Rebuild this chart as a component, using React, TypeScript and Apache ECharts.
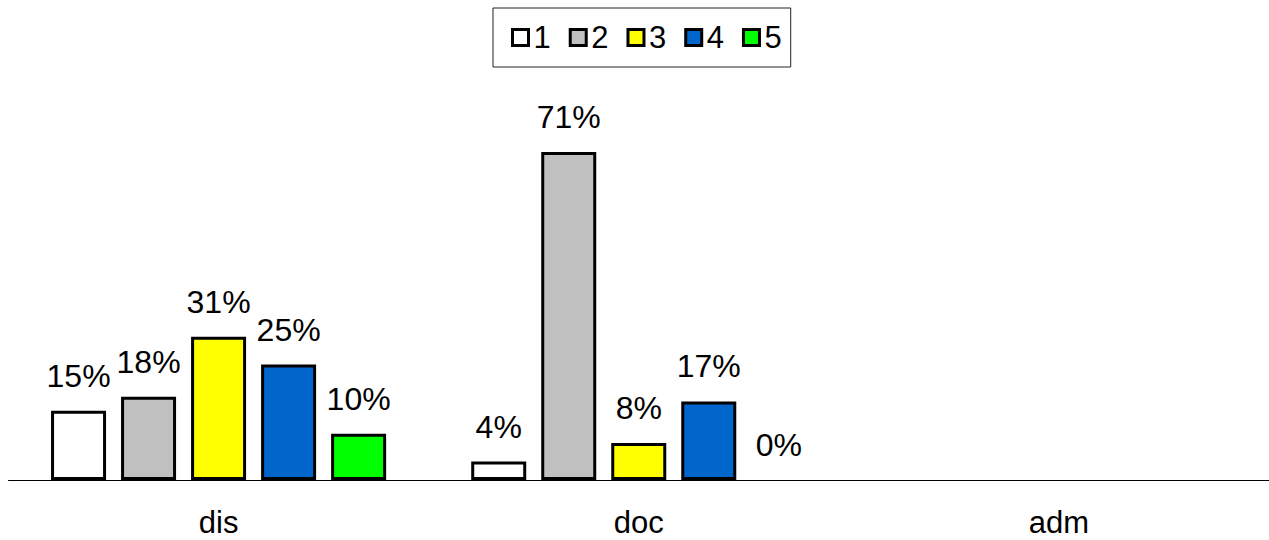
import React, { useEffect, useRef } from "react";
import * as echarts from "echarts";

const categories = ["dis", "doc", "adm"];
const seriesNames = ["1", "2", "3", "4", "5"];
const s1 = [15, 4, null];
const s2 = [18, 71, null];
const s3 = [31, 8, null];
const s4 = [25, 17, null];
const s5 = [10, 0, null];
const colors = ["#ffffff", "#c0c0c0", "#ffff00", "#0066cc", "#00ff00"];

const FONT = "'Liberation Sans', Arial, sans-serif";

export default function App() {
  const ref = useRef<HTMLDivElement>(null);
  useEffect(() => {
    if (!ref.current) return;
    const chart = echarts.init(ref.current, null, { renderer: "svg" });
    const all = [s1, s2, s3, s4, s5];
    chart.setOption({
      animation: false,
      textStyle: { fontFamily: FONT },
      legend: {
        data: seriesNames,
        left: 493,
        top: 8,
        padding: [14, 9, 14, 18],
        borderColor: "#222",
        borderWidth: 1,
        backgroundColor: "#fff",
        itemWidth: 16,
        itemHeight: 16,
        itemGap: 18,
        icon: "rect",
        itemStyle: { borderColor: "#000", borderWidth: 3 },
        textStyle: { fontSize: 31, color: "#000", fontFamily: FONT },
      },
      grid: { left: 8.5, top: 110.4, width: 1266, height: 369.6 },
      xAxis: {
        type: "category",
        data: categories,
        axisTick: { show: false },
        axisLine: { lineStyle: { color: "#000", width: 1 } },
        axisLabel: {
          fontSize: 31,
          lineHeight: 26,
          color: "#000",
          margin: 29,
          fontFamily: FONT,
        },
      },
      yAxis: {
        type: "value",
        min: 0,
        max: 80,
        show: false,
        splitLine: { show: false },
      },
      series: all.map((arr, i) => ({
        name: seriesNames[i],
        type: "bar",
        barWidth: 55,
        barGap: "27.3%",
        itemStyle: { color: colors[i], borderColor: "#000", borderWidth: 3 },
        label: {
          show: true,
          position: "top",
          distance: 19,
          formatter: "{c}%",
          fontSize: 32,
          color: "#000",
          fontFamily: FONT,
        },
        data: arr.map((v) =>
          v === 0 ? { value: v, itemStyle: { borderWidth: 0 } } : v
        ),
      })),
    });
    return () => chart.dispose();
  }, []);
  return (
    <div
      ref={ref}
      style={{ position: "absolute", left: 0, top: 0, width: 1269, height: 540 }}
    />
  );
}
